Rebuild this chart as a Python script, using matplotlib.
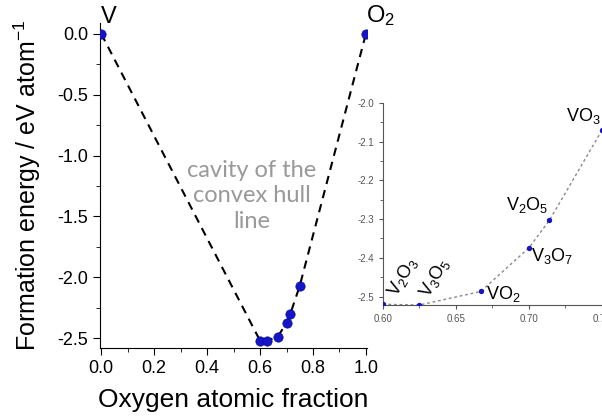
import matplotlib
matplotlib.use("Agg")
import matplotlib.pyplot as plt
from matplotlib.ticker import MultipleLocator, FormatStrFormatter

plt.rcParams['font.family'] = ['Liberation Sans', 'DejaVu Sans']
plt.rcParams['axes.unicode_minus'] = False
plt.rcParams['mathtext.fontset'] = 'custom'
plt.rcParams['mathtext.rm'] = 'Liberation Sans'
plt.rcParams['mathtext.it'] = 'Liberation Sans'
plt.rcParams['mathtext.default'] = 'regular'

# data
x_oxygen = [0.0, 0.6, 0.625, 0.667, 0.7, 0.714, 0.75, 1.0]
e_form = [0.0, -2.520, -2.522, -2.487, -2.374, -2.303, -2.070, 0.0]

inset_x = [0.6, 0.625, 0.667, 0.7, 0.714, 0.75]
inset_e = [-2.520, -2.522, -2.487, -2.374, -2.303, -2.070]
inset_labels = ["V$_2$O$_3$", "V$_3$O$_5$", "VO$_2$", "V$_3$O$_7$", "V$_2$O$_5$", "VO$_3$"]

fig = plt.figure(figsize=(6.02, 4.19), dpi=100)
ax = fig.add_axes([0.166, 0.1695, 0.444, 0.776])
ax.plot(x_oxygen, e_form, ls=(0, (4, 3)), color='black', lw=1.5, zorder=2)
ax.scatter(x_oxygen, e_form, s=45, color='#1414c8', edgecolors='#0a0a90', linewidths=0.5, zorder=3)
ax.set_xlim(-0.005, 1.005)
ax.set_ylim(-2.58, 0.09)
for s in ['top', 'right']:
    ax.spines[s].set_visible(False)
ax.xaxis.set_major_locator(MultipleLocator(0.2))
ax.xaxis.set_minor_locator(MultipleLocator(0.1))
ax.yaxis.set_major_locator(MultipleLocator(0.5))
ax.yaxis.set_minor_locator(MultipleLocator(0.25))
ax.xaxis.set_major_formatter(FormatStrFormatter('%.1f'))
ax.yaxis.set_major_formatter(FormatStrFormatter('%.1f'))
ax.tick_params(which='both', direction='out', labelsize=13)
ax.tick_params(which='major', length=5)
ax.tick_params(which='minor', length=3)
ax.set_xlabel("Oxygen atomic fraction", fontsize=19, labelpad=8)
ax.set_ylabel("Formation energy / eV atom$^{-1}$", fontsize=18, labelpad=10)
ax.text(0.0, 0.05, "V", fontsize=17, ha='left', va='bottom', clip_on=False)
ax.text(1.0, 0.05, "O$_2$", fontsize=17, ha='left', va='bottom', clip_on=False)
ax.text(0.57, -1.33, "cavity of the\nconvex hull\nline", fontsize=17, color='#999999',
        family='Lato', ha='center', va='center', linespacing=1.25)

# inset
ins = fig.add_axes([0.636, 0.272, 0.364, 0.482])
ins.plot(inset_x, inset_e, ls=(0, (2, 2)), color='#888888', lw=1.0, zorder=2)
ins.scatter(inset_x, inset_e, s=8, color='#1414c8', zorder=3)
ins.set_xlim(0.6, 0.75)
ins.set_ylim(-2.522, -2.0)
for s in ['top', 'right']:
    ins.spines[s].set_visible(False)
for s in ['left', 'bottom']:
    ins.spines[s].set_color('#555555')
ins.xaxis.set_major_locator(MultipleLocator(0.05))
ins.xaxis.set_minor_locator(MultipleLocator(0.025))
ins.yaxis.set_major_locator(MultipleLocator(0.1))
ins.yaxis.set_minor_locator(MultipleLocator(0.05))
ins.xaxis.set_major_formatter(FormatStrFormatter('%.2f'))
ins.yaxis.set_major_formatter(FormatStrFormatter('%.1f'))
ins.tick_params(which='both', direction='out', labelsize=7, colors='#555555')
ins.tick_params(which='major', length=3)
ins.tick_params(which='minor', length=2)
ins.patch.set_alpha(0)

lab_fs = 13
ins.text(0.6005, -2.51, inset_labels[0], fontsize=lab_fs, rotation=60, ha='left', va='bottom')
ins.text(0.6225, -2.512, inset_labels[1], fontsize=lab_fs, rotation=60, ha='left', va='bottom')
ins.text(0.6705, -2.493, inset_labels[2], fontsize=lab_fs, ha='left', va='center')
ins.text(0.7015, -2.395, inset_labels[3], fontsize=lab_fs, ha='left', va='center')
ins.text(0.713, -2.29, inset_labels[4], fontsize=lab_fs, ha='right', va='bottom')
ins.text(0.749, -2.06, inset_labels[5], fontsize=lab_fs, ha='right', va='bottom')

fig.savefig("out.png", dpi=100)
